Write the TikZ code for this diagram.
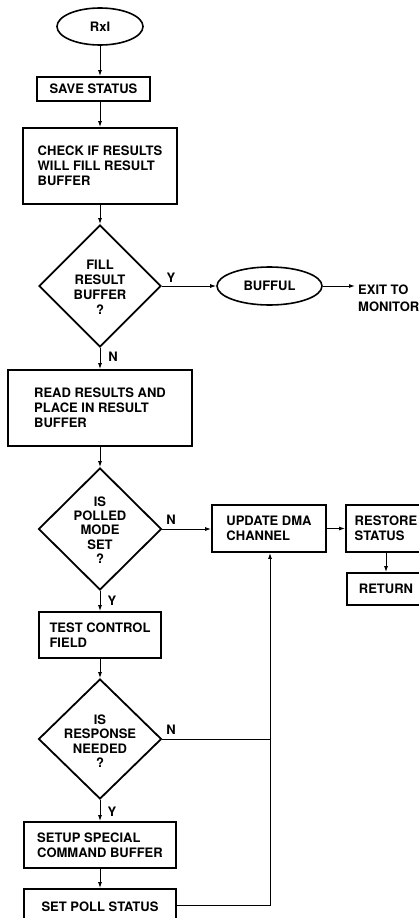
\documentclass[tikz,border=0pt]{standalone}
\usepackage{fontspec}
\setmainfont{TeX Gyre Heros}
\usetikzlibrary{shapes.geometric,arrows.meta}
\begin{document}
\begin{tikzpicture}[x=1pt,y=-1pt,
  every node/.style={font=\fontsize{13}{15}\selectfont\bfseries},
  box/.style={draw,line width=1.8pt,rectangle,inner sep=0pt,align=left},
  term/.style={draw,line width=1.6pt,ellipse,inner sep=0pt},
  dec/.style={draw,line width=1.8pt,diamond,aspect=1,inner sep=0pt},
  dtext/.style={align=center,inner sep=0pt},
  flow/.style={line width=1pt,-{Latex[length=6pt,width=4pt]}},
  plain/.style={line width=1pt},
  lbl/.style={inner sep=0pt}
]
\useasboundingbox (0,0) rectangle (419,918);
\fill[white] (0,0) rectangle (419,918);
\clip (0,0) rectangle (419,918);

\node[term,minimum width=86pt,minimum height=37pt] (rx) at (100,26.5) {RxI};
\node[box,minimum width=113pt,minimum height=24pt] (save) at (93.5,89) {SAVE STATUS};
\node[box,minimum width=154pt,minimum height=76pt] (check) at (100,166) {CHECK IF RESULTS\\WILL FILL RESULT\\BUFFER};
\node[dec,minimum width=122pt,minimum height=122pt] (d1) at (100,286) {};
\node[dtext] (d1t) at (100,287) {FILL\\RESULT\\BUFFER\\?};
\node[term,minimum width=105pt,minimum height=38pt] (buff) at (269.5,286) {BUFFUL};
\coordinate (exitpt) at (355,286);
\node[lbl,anchor=north west,align=left,font=\fontsize{13}{16.5}\selectfont\bfseries] (exit) at (358,285) {EXIT TO\\MONITOR};

\node[box,minimum width=184pt,minimum height=76pt] (read) at (100,408) {READ RESULTS AND\\PLACE IN RESULT\\BUFFER};
\node[dec,minimum width=123pt,minimum height=122pt] (d2) at (100,529) {};
\node[dtext,font=\fontsize{13}{14.3}\selectfont\bfseries] (d2t) at (100,530) {IS\\POLLED\\MODE\\SET\\?};
\node[box,minimum width=114pt,minimum height=47pt] (upd) at (269,528.5) {UPDATE DMA\\CHANNEL};
\node[box,minimum width=80pt,minimum height=47pt] (rest) at (386,528.5) {RESTORE\\STATUS};
\node[box,minimum width=78pt,minimum height=32pt] (ret) at (386,589) {RETURN};
\node[box,minimum width=122pt,minimum height=46pt] (test) at (100,635) {TEST CONTROL\\FIELD};
\node[dec,minimum width=123pt,minimum height=120pt] (d3) at (100,739) {};
\node[dtext,font=\fontsize{13}{14.5}\selectfont\bfseries] (d3t) at (100,741) {IS\\RESPONSE\\NEEDED\\?};
\node[box,minimum width=152pt,minimum height=46pt] (setup) at (100,845) {SETUP SPECIAL\\COMMAND BUFFER};
\node[box,minimum width=152pt,minimum height=36pt] (poll) at (100,907) {SET POLL STATUS};

\draw[flow] (rx.south) -- (rx.south |- save.north);
\draw[flow] (check.north |- save.south) -- (check.north);
\draw[flow] (check.south) -- (d1.north);
\draw[flow] (d1.east) -- (buff.west);
\node[lbl] (ly1) at (171,278) {Y};
\draw[flow] (buff.east) -- (exitpt);
\draw[flow] (d1.south) -- (read.north);
\node[lbl] (ln1) at (113,357) {N};
\draw[flow] (read.south) -- (d2.north);
\draw[flow] (d2.east) -- (d2.east -| upd.west);
\node[lbl] (ln2) at (171,520) {N};
\draw[flow] (upd.east) -- (rest.west);
\draw[flow] (rest.south) -- (ret.north);
\draw[flow] (d2.south) -- (test.north);
\node[lbl] (ly2) at (112,601) {Y};
\draw[flow] (test.south) -- (d3.north);
\coordinate (j1) at (270,739);
\draw[plain] (d3.east) -- (j1);
\node[lbl] (ln3) at (171,730) {N};
\draw[flow] (d3.south) -- (setup.north);
\node[lbl] (ly3) at (112,812) {Y};
\draw[flow] (setup.south) -- (poll.north);
\coordinate (j2) at (270,905);
\draw[flow] (poll.east |- j2) -- (j2) -- (j2 |- upd.south);
\end{tikzpicture}
\end{document}
